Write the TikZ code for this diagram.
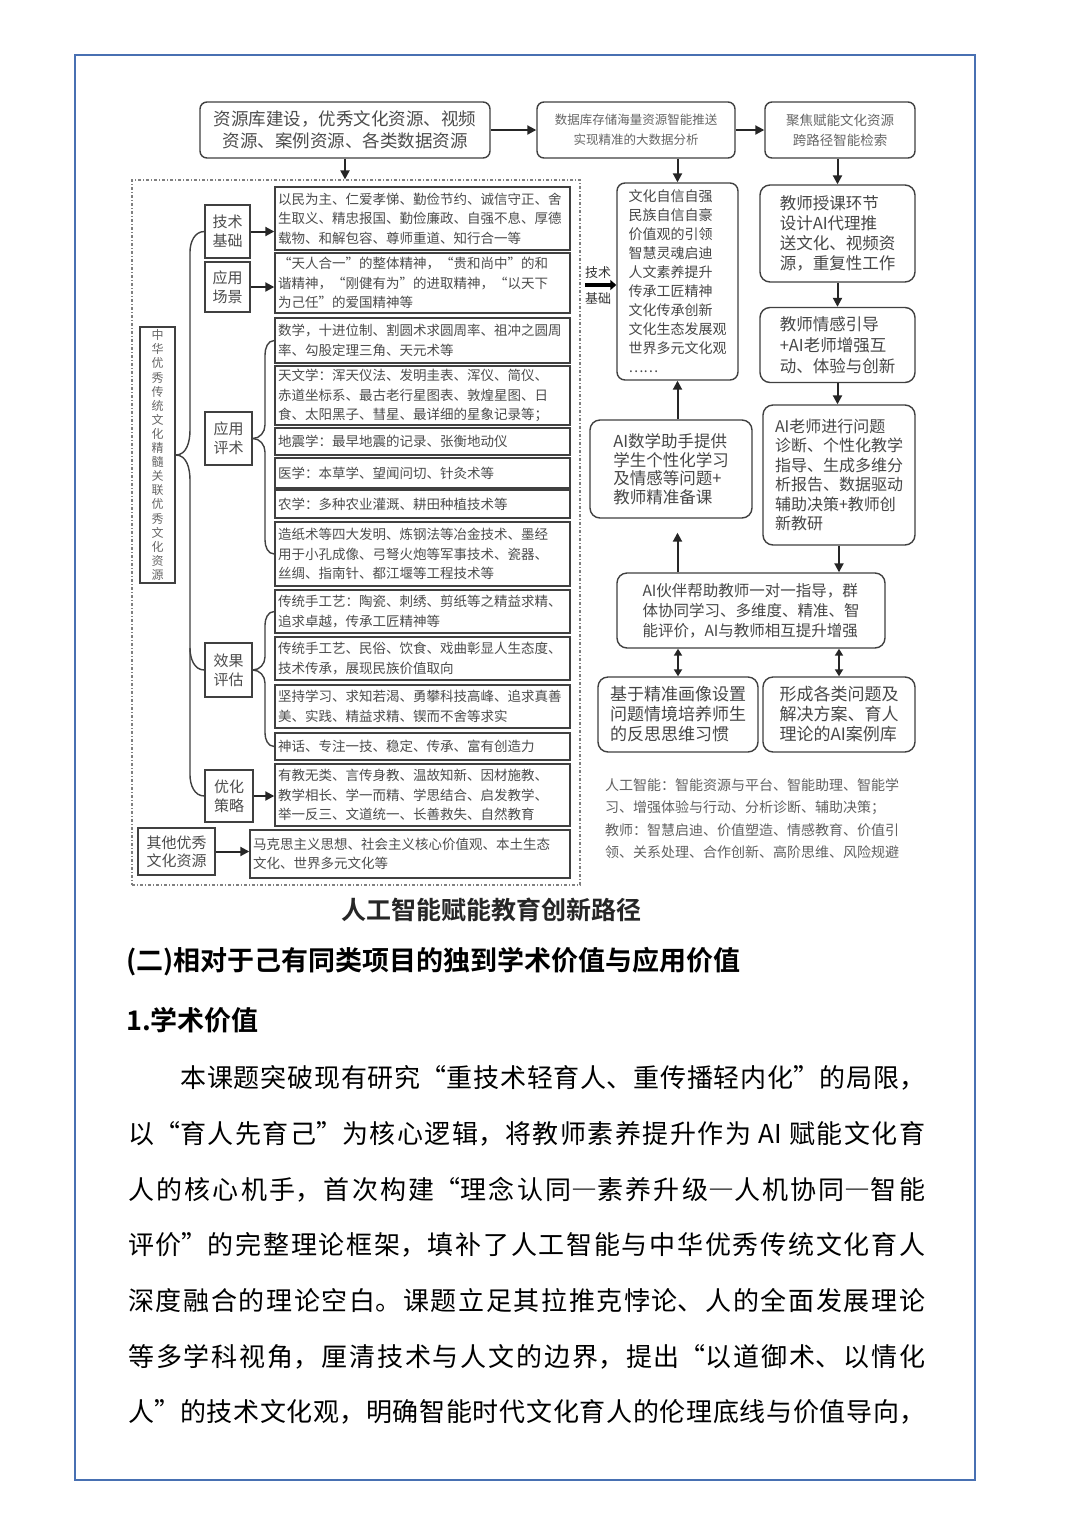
\documentclass[tikz,border=0pt]{standalone}
\usepackage{fontspec}
\setmainfont{Noto Sans CJK SC}[BoldFont={Noto Sans CJK SC Bold}]
\newfontfamily\fwfont{Noto Sans CJK SC}[RawFeature=+fwid]
\newcommand{\cjklq}{{\fwfont “}}
\newcommand{\cjkrq}{{\fwfont ”}}
\newcommand{\cjkdash}{{\fwfont —}}
\usetikzlibrary{arrows.meta}
\definecolor{pageblue}{RGB}{72,112,178}
\XeTeXlinebreaklocale "zh"
\XeTeXlinebreakskip=0pt plus 3pt

\begin{document}
\begin{tikzpicture}[x=1pt, y=-1pt,
    boxline/.style={draw=black!75, line width=1.4pt},
    topbox/.style={boxline, rounded corners=7pt, align=center, text=black!70, inner sep=0pt},
    catbox/.style={boxline, align=center, text=black!70, inner sep=0pt, font=\fontsize{15}{19}\selectfont},
    itembox/.style={boxline, align=left, text=black!70, inner sep=3pt, text width=289pt, minimum width=295pt, font=\fontsize{13.5}{19.5}\selectfont},
    rbox/.style={boxline, rounded corners=10pt, align=left, text=black!72, inner sep=0pt},
    brc/.style={boxline},
    arr/.style={draw=black!85, line width=2pt, -{Triangle[length=9pt,width=9pt]}},
    dblarr/.style={draw=black!85, line width=2pt, {Triangle[length=7pt,width=8pt]}-{Triangle[length=7pt,width=8pt]}},
    para/.style={anchor=west, inner sep=0pt, font=\fontsize{26}{30}\selectfont},
    head/.style={anchor=west, inner sep=0pt, font=\fontsize{27}{30}\selectfont\bfseries}]

    % Page and border
    \fill[white] (0,0) rectangle (1080,1527);
    \useasboundingbox (0,0) rectangle (1080,1527);
    \draw[pageblue, line width=1.5pt] (75,55) rectangle (975,1480);

    % Top row
    \node[topbox, minimum width=290pt, minimum height=56pt, font=\fontsize{17.5}{22}\selectfont] (box1) at (345,130) {资源库建设，优秀文化资源、视频\\资源、案例资源、各类数据资源};
    \node[topbox, minimum width=198pt, minimum height=56pt, font=\fontsize{12.5}{20}\selectfont, text=black!60] (box2) at (636,130) {数据库存储海量资源智能推送\\实现精准的大数据分析};
    \node[topbox, minimum width=150pt, minimum height=56pt, font=\fontsize{13.5}{20}\selectfont, text=black!60] (box3) at (840,130) {聚焦赋能文化资源\\跨路径智能检索};

    % Dashed frame on the left
    \node[draw=black!50, dash pattern=on 3pt off 2pt on 1pt off 2pt, line width=1.2pt, minimum width=448pt, minimum height=705pt, inner sep=0pt] (frame) at (356,532.5) {};

    \node[boxline, minimum width=35pt, minimum height=256pt, inner sep=0pt, text width=13pt, align=center, text=black!60, font=\fontsize{12}{14.1}\selectfont] (vbox) at (157.5,455) {中华优秀传统文化精髓关联优秀文化资源};

    \node[catbox, minimum width=45pt, minimum height=53pt] (catTech) at (227.5,231.5) {技术\\基础};
    \node[catbox, minimum width=45pt, minimum height=50pt] (catScene) at (227.5,287) {应用\\场景};
    \node[catbox, minimum width=47pt, minimum height=53pt] (catApp) at (228.5,438.5) {应用\\评术};
    \node[catbox, minimum width=47pt, minimum height=54pt] (catEval) at (228.5,670) {效果\\评估};
    \node[catbox, minimum width=48pt, minimum height=52pt] (catOpt) at (229,796) {优化\\策略};
    \node[catbox, minimum width=77pt, minimum height=47pt, font=\fontsize{15}{18}\selectfont] (catOther) at (176.5,851.5) {其他优秀\\文化资源};

    \node[itembox, minimum height=63pt] (c1) at (422.5,218.5) {以民为主、仁爱孝悌、勤俭节约、诚信守正、舍\\生取义、精忠报国、勤俭廉政、自强不息、厚德\\载物、和解包容、尊师重道、知行合一等};
    \node[itembox, minimum height=60pt] (c2) at (422.5,283) {“天人合一”的整体精神，“贵和尚中”的和\\谐精神，“刚健有为”的进取精神，“以天下\\为己任”的爱国精神等};
    \node[itembox, minimum height=45pt] (c3) at (422.5,340.5) {数学，十进位制、割圆术求圆周率、祖冲之圆周\\率、勾股定理三角、天元术等};
    \node[itembox, minimum height=59pt] (c4) at (422.5,395.5) {天文学：浑天仪法、发明圭表、浑仪、简仪、\\赤道坐标系、最古老行星图表、敦煌星图、日\\食、太阳黑子、彗星、最详细的星象记录等；};
    \node[itembox, minimum height=27pt] (c5) at (422.5,441.5) {地震学：最早地震的记录、张衡地动仪};
    \node[itembox, minimum height=30pt] (c6) at (422.5,473) {医学：本草学、望闻问切、针灸术等};
    \node[itembox, minimum height=28pt] (c7) at (422.5,504) {农学：多种农业灌溉、耕田种植技术等};
    \node[itembox, minimum height=64pt] (c8) at (422.5,554) {造纸术等四大发明、炼钢法等冶金技术、墨经\\用于小孔成像、弓弩火炮等军事技术、瓷器、\\丝绸、指南针、都江堰等工程技术等};
    \node[itembox, minimum height=43pt] (c9) at (422.5,611.5) {传统手工艺：陶瓷、刺绣、剪纸等之精益求精、\\追求卓越，传承工匠精神等};
    \node[itembox, minimum height=43pt] (c10) at (422.5,658.5) {传统手工艺、民俗、饮食、戏曲彰显人生态度、\\技术传承，展现民族价值取向};
    \node[itembox, minimum height=43pt] (c11) at (422.5,706.5) {坚持学习、求知若渴、勇攀科技高峰、追求真善\\美、实践、精益求精、锲而不舍等求实};
    \node[itembox, minimum height=27pt] (c12) at (422.5,746.5) {神话、专注一技、稳定、传承、富有创造力};
    \node[itembox, minimum height=62pt] (c13) at (422.5,795) {有教无类、言传身教、温故知新、因材施教、\\教学相长、学一而精、学思结合、启发教学、\\举一反三、文道统一、长善救失、自然教育};
    \node[itembox, text width=314pt, minimum width=320pt, minimum height=48pt] (c14) at (410,854) {马克思主义思想、社会主义核心价值观、本土生态\\文化、世界多元文化等};

    % Braces
    \draw[brc] (catTech.west) to[out=180,in=90] (190,252) -- (190,430) to[out=-90,in=0] (vbox.east);
    \draw[brc] (vbox.east) to[out=0,in=90] (190,480) -- (190,775) to[out=-90,in=180] (catOpt.west);
    \draw[brc] (190,648) to[out=-90,in=180] (catEval.west);
    \draw[brc] (c3.west) to[out=180,in=90] (265,355) -- (265,425) to[out=-90,in=0] (catApp.east);
    \draw[brc] (catApp.east) to[out=0,in=90] (265,452) -- (265,540) to[out=-90,in=180] (c8.west);
    \draw[brc] (c9.west) to[out=180,in=90] (265,625) -- (265,657) to[out=-90,in=0] (catEval.east);
    \draw[brc] (catEval.east) to[out=0,in=90] (265,683) -- (265,733) to[out=-90,in=180] (c12.west);

    % Arrows in the frame
    \draw[arr] (catTech.east) -- (catTech.east -| c1.west);
    \draw[arr] (catScene.east) -- (catScene.east -| c2.west);
    \draw[arr] (catOpt.east) -- (catOpt.east -| c13.west);
    \draw[arr] (catOther.east) -- (catOther.east -| c14.west);

    % Right column
    \node[rbox, rounded corners=8pt, minimum width=121pt, minimum height=197pt, font=\fontsize{14}{19}\selectfont] (tall) at (677.5,281.5) {文化自信自强\\民族自信自豪\\价值观的引领\\智慧灵魂启迪\\人文素养提升\\传承工匠精神\\文化传承创新\\文化生态发展观\\世界多元文化观\\……};
    \node[rbox, minimum width=155pt, minimum height=97pt, font=\fontsize{16.5}{20}\selectfont] (r1) at (837.5,233.5) {教师授课环节\\设计AI代理推\\送文化、视频资\\源，重复性工作};
    \node[rbox, minimum width=155pt, minimum height=75pt, font=\fontsize{16.5}{21}\selectfont] (r2) at (837.5,345) {教师情感引导\\+AI老师增强互\\动、体验与创新};
    \node[rbox, minimum width=152pt, minimum height=140pt, font=\fontsize{16}{19.5}\selectfont] (r3) at (839,475) {AI老师进行问题\\诊断、个性化教学\\指导、生成多维分\\析报告、数据驱动\\辅助决策+教师创\\新教研};
    \node[rbox, minimum width=162pt, minimum height=98pt, font=\fontsize{16.5}{18.5}\selectfont] (lbox) at (671,469) {AI数学助手提供\\学生个性化学习\\及情感等问题+\\教师精准备课};
    \node[rbox, minimum width=268pt, minimum height=75pt, font=\fontsize{15.5}{20}\selectfont] (mbox) at (751,610.5) {AI伙伴帮助教师一对一指导，群\\体协同学习、多维度、精准、智\\能评价，AI与教师相互提升增强};
    \node[rbox, minimum width=160pt, minimum height=75pt, font=\fontsize{17}{20}\selectfont] (b1) at (678,714.5) {基于精准画像设置\\问题情境培养师生\\的反思思维习惯};
    \node[rbox, minimum width=152pt, minimum height=75pt, font=\fontsize{17}{20}\selectfont] (b2) at (839,714.5) {形成各类问题及\\解决方案、育人\\理论的AI案例库};

    \node[anchor=west, align=left, inner sep=0pt, text=black!62, font=\fontsize{14}{22.5}\selectfont] (notes) at (605,818.5) {人工智能：智能资源与平台、智能助理、智能学\\习、增强体验与行动、分析诊断、辅助决策；\\教师：智慧启迪、价值塑造、情感教育、价值引\\领、关系处理、合作创新、高阶思维、风险规避};

    \node[inner sep=0pt, align=center, text=black!80, font=\fontsize{13}{26}\selectfont] (techlbl) at (598,285) {技术\\基础};
    \draw[draw=black, line width=4pt, -{Triangle[length=6pt,width=10pt]}] (techlbl.west) -- (techlbl.west -| tall.west);

    % Flow arrows
    \draw[arr] (box1) -- (box2);
    \draw[arr] (box2) -- (box3);
    \draw[arr] (box1.south) -- (box1.south |- frame.north);
    \draw[arr] (tall.north |- box2.south) -- (tall.north);
    \draw[arr] (r1.north |- box3.south) -- (r1.north);
    \draw[arr] (r1.south) -- (r2.north);
    \draw[arr] (r2.south) -- (r2.south |- r3.north);
    \draw[arr] (r3.south) -- (r3.south |- mbox.north);
    \draw[arr] (tall.south |- lbox.north) -- (tall.south);
    \draw[arr, shorten >=14pt] (tall.south |- mbox.north) -- (tall.south |- lbox.south);
    \draw[dblarr] (b1.north |- mbox.south) -- (b1.north);
    \draw[dblarr] (b2.north |- mbox.south) -- (b2.north);

    % Caption
    \node[inner sep=0pt, text=black!85, font=\fontsize{25}{28}\selectfont\bfseries] (title) at (491,910) {人工智能赋能教育创新路径};

    % Body text
    \node[head] (h1) at (126,962) {(二)相对于己有同类项目的独到学术价值与应用价值};
    \node[head] (h2) at (126,1020) {1.学术价值};
    \node[para] (p0) at (180,1078) {\parbox{745pt}{\parfillskip=0pt 本课题突破现有研究\cjklq 重技术轻育人、重传播轻内化\cjkrq 的局限，}};
    \foreach \txt [count=\i] in {
        {以\cjklq 育人先育己\cjkrq 为核心逻辑，将教师素养提升作为 AI 赋能文化育},
        {人的核心机手，首次构建\cjklq 理念认同\cjkdash 素养升级\cjkdash 人机协同\cjkdash 智能},
        {评价\cjkrq 的完整理论框架，填补了人工智能与中华优秀传统文化育人},
        {深度融合的理论空白。课题立足其拉推克悖论、人的全面发展理论},
        {等多学科视角，厘清技术与人文的边界，提出\cjklq 以道御术、以情化},
        {人\cjkrq 的技术文化观，明确智能时代文化育人的伦理底线与价值导向，}}
        \node[para] (p\i) at (128,{1078+55.7*\i}) {\parbox{797pt}{\parfillskip=0pt \txt}};
\end{tikzpicture}
\end{document}
